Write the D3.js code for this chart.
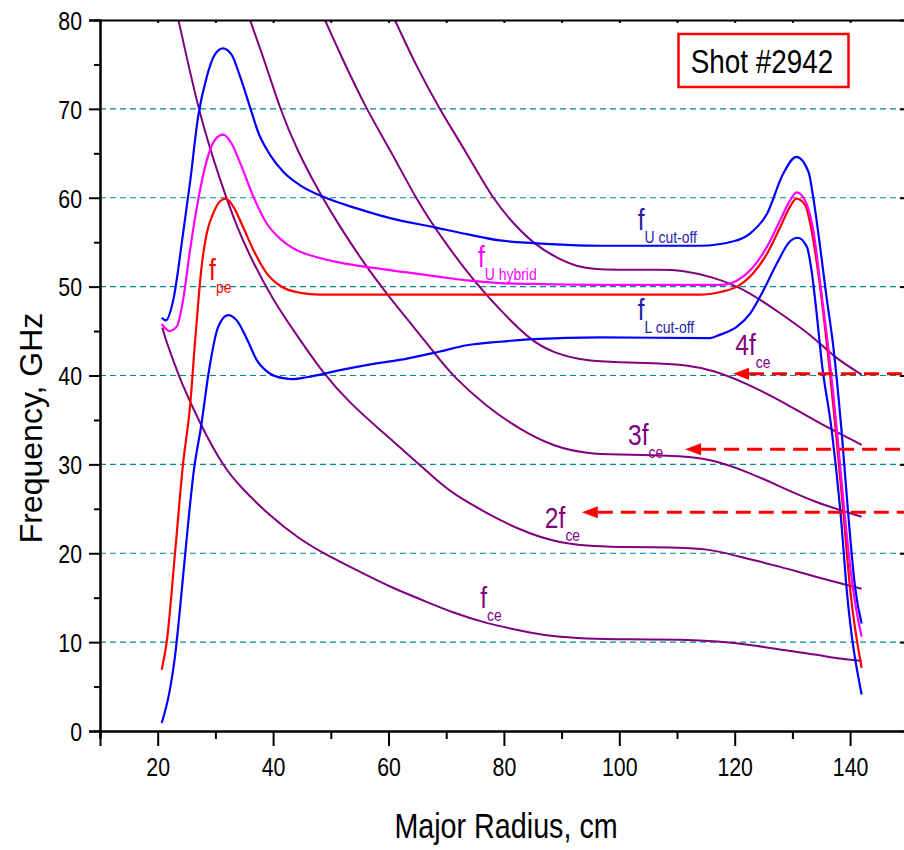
<!DOCTYPE html>
<html>
<head>
<meta charset="utf-8">
<script src="https://cdn.jsdelivr.net/npm/d3@7"></script>
<style>
  body { margin: 0; background: #fff; }
  svg { display: block; }
  text { font-family: 'Liberation Sans', Arial, sans-serif; }
</style>
</head>
<body>
<svg id="chart" width="904" height="850"></svg>
<script>
// frequencies (GHz) vs major radius (cm)
var fUcut = [[20.7,46.5],[21.4,46.2],[22.7,48.5],[24.4,56.0],[25.6,61.7],[27.0,69.1],[28.5,73.6],[29.9,76.1],[31.3,76.8],[32.8,76.1],[34.3,73.6],[36.0,70.2],[37.4,67.4],[39.5,64.8],[41.8,62.9],[44.7,61.4],[48.7,60.1],[54.5,58.8],[60.3,57.7],[67.8,56.7],[73.6,55.9],[79.3,55.2],[85.1,54.9],[90.9,54.7],[96.7,54.6],[114.0,54.6],[119.8,55.1],[122.7,56.0],[125.6,58.2],[128.4,62.7],[130.7,64.6],[132.8,62.9],[133.6,60.1],[134.8,54.5],[135.9,48.9],[137.1,43.2],[138.5,33.9],[139.7,24.2],[140.9,16.0],[142.0,12.1]];
var fUhyb = [[20.7,45.8],[22.0,45.0],[23.3,45.5],[24.4,48.5],[25.6,54.1],[27.0,59.7],[28.5,64.2],[29.9,66.5],[31.3,67.1],[32.8,66.1],[34.3,63.9],[36.6,60.1],[38.9,57.1],[41.2,55.4],[43.5,54.3],[47.6,53.3],[51.6,52.7],[57.4,52.1],[63.2,51.6],[68.9,51.1],[73.6,50.7],[79.3,50.4],[85.1,50.3],[96.7,50.2],[117.5,50.2],[120.4,50.7],[123.2,52.2],[125.6,54.5],[127.9,57.5],[129.6,59.7],[130.7,60.6],[132.2,59.7],[133.6,56.4],[135.1,48.9],[136.2,43.2],[137.7,33.9],[139.1,24.1],[140.5,16.0],[142.0,10.6]];
var fpe = [[20.7,6.9],[21.6,10.2],[23.0,20.0],[24.4,30.1],[25.6,36.5],[26.5,44.0],[27.6,52.2],[28.5,56.0],[29.6,58.2],[30.8,59.6],[31.8,59.9],[33.1,59.0],[34.8,56.7],[36.6,54.1],[38.9,51.5],[41.2,50.1],[44.7,49.3],[48.1,49.1],[114.0,49.1],[117.5,49.4],[120.4,50.0],[123.2,51.5],[125.6,53.7],[127.9,56.7],[129.6,59.0],[130.7,59.9],[132.2,59.2],[133.3,56.4],[134.4,51.9],[137.5,33.9],[138.9,24.1],[140.0,16.0],[142.0,7.1]];
var fLcut = [[20.7,0.9],[22.1,4.6],[23.0,8.4],[23.9,14.0],[25.0,21.5],[26.2,29.0],[27.6,34.6],[28.8,40.2],[30.5,45.5],[32.2,46.8],[33.7,46.2],[35.4,44.2],[37.2,41.7],[39.5,40.2],[41.8,39.7],[43.5,39.6],[45.8,39.8],[51.6,40.6],[57.4,41.3],[63.2,41.9],[68.9,42.7],[73.6,43.4],[79.3,43.8],[85.1,44.1],[96.7,44.3],[115.7,44.2],[117.5,44.6],[120.4,45.5],[122.7,47.0],[125.0,49.6],[127.3,52.6],[129.6,55.1],[130.9,55.5],[132.5,54.5],[133.3,51.9],[134.2,47.0],[135.1,41.4],[136.8,33.9],[138.4,24.1],[139.4,16.0],[142.0,4.1]];
var fce = [[20.8,45.4],[21.4,44.0],[22.7,41.7],[23.9,39.5],[27.3,34.6],[31.4,29.7],[34.3,27.5],[38.9,24.5],[44.7,21.5],[49.3,19.8],[55.1,17.9],[60.3,16.2],[66.0,14.7],[71.2,13.3],[77.0,12.1],[82.8,11.3],[88.6,10.6],[94.4,10.4],[100.1,10.3],[111.7,10.3],[116.9,10.1],[122.7,9.7],[128.4,9.1],[134.2,8.6],[138.3,8.1],[142.0,7.9]];
var f2ce = [[23.6,80],[27.3,69.1],[30.8,62.0],[33.7,56.7],[36.6,52.6],[40.0,48.5],[43.5,45.1],[48.7,40.2],[53.3,36.9],[58.5,33.9],[64.3,30.6],[68.9,27.9],[71.2,26.7],[77.0,24.5],[82.8,22.6],[88.6,21.3],[94.4,20.8],[100.1,20.7],[105.9,20.7],[111.7,20.6],[116.3,20.4],[122.1,19.4],[127.9,18.5],[133.6,17.4],[142.0,16.0]];
var f3ce = [[36.0,80],[38.9,74.7],[41.2,70.0],[44.1,65.4],[48.1,60.5],[51.6,56.7],[56.2,52.2],[59.7,49.2],[64.3,45.5],[68.0,42.5],[71.2,39.9],[77.0,36.5],[82.8,33.9],[88.6,32.0],[94.4,31.2],[100.1,31.1],[105.9,31.05],[111.7,30.9],[116.3,30.5],[122.1,29.2],[127.9,27.5],[133.6,25.8],[142.0,24.1]];
var f4ce = [[49.0,80],[51.6,76.2],[56.2,69.9],[60.3,65.4],[64.9,59.7],[69.5,55.2],[74.7,50.7],[79.3,47.4],[84.5,44.0],[88.6,42.5],[94.4,41.6],[100.1,41.5],[105.9,41.4],[111.7,41.2],[116.3,40.6],[122.1,39.1],[127.9,37.2],[133.6,35.0],[142.0,32.2]];
var f5ce = [[61.1,80],[64.9,74.7],[68.9,69.9],[73.6,65.0],[78.2,59.7],[82.2,56.7],[85.1,54.9],[88.6,53.4],[92.6,52.2],[96.7,51.9],[101.3,51.9],[107.1,51.9],[110.5,51.9],[116.3,51.1],[122.1,49.6],[127.9,47.0],[133.6,44.4],[137.1,42.1],[142.0,40.1]];

// launched beam frequencies (arrows) and where they stop
var beamLevels = [40.2, 31.7, 24.6];
var beamStops = [119.7, 111.4, 93.5];

var gridLevels = [10, 20, 30, 40, 50, 60, 70];
var xMajor = [20, 40, 60, 80, 100, 120, 140];
var xMinor = [10, 30, 50, 70, 90, 110, 130, 150];
var yMajor = [0, 10, 20, 30, 40, 50, 60, 70, 80];
var yMinor = [5, 15, 25, 35, 45, 55, 65, 75];

var curveLabels = [
  {main: 'f', sub: 'U cut-off', x: 103.2, y: 56.4, color: '#1c1ca8'},
  {main: 'f', sub: 'L cut-off', x: 103.2, y: 46.2, color: '#1c1ca8'},
  {main: 'f', sub: 'U hybrid', x: 75.5, y: 52.2, color: '#ff00ff'},
  {main: 'f', sub: 'pe', x: 28.9, y: 50.7, color: '#ff0000'},
  {main: '4f', sub: 'ce', x: 120.1, y: 42.3, color: '#800080'},
  {main: '3f', sub: 'ce', x: 101.5, y: 32.2, color: '#800080'},
  {main: '2f', sub: 'ce', x: 87.1, y: 22.8, color: '#800080'},
  {main: 'f', sub: 'ce', x: 75.9, y: 13.8, color: '#800080'}
];

var NARROW = 0.82; // the lettering in the figure is condensed

var svg = d3.select('#chart');
var x = d3.scaleLinear().domain([10, 150]).range([100, 907.8]);
var y = d3.scaleLinear().domain([0, 80]).range([731, 20]);

svg.append('defs').append('clipPath').attr('id', 'plot')
  .append('rect').attr('x', x(10)).attr('y', y(80))
  .attr('width', x(150) - x(10)).attr('height', y(0) - y(80));

// dashed grid
svg.append('g').selectAll('line').data(gridLevels).join('line')
  .attr('x1', x(10)).attr('x2', x(150))
  .attr('y1', d => y(d)).attr('y2', d => y(d))
  .style('stroke', '#008b8b').style('stroke-width', 1.2)
  .style('stroke-dasharray', '6,4');

var smooth = d3.line().x(d => x(d[0])).y(d => y(d[1])).curve(d3.curveBasis);
var through = d3.line().x(d => x(d[0])).y(d => y(d[1])).curve(d3.curveMonotoneX);
var curves = svg.append('g').attr('clip-path', 'url(#plot)');

var series = [
  {data: fce, color: '#800080', w: 2, line: smooth},
  {data: f2ce, color: '#800080', w: 2, line: smooth},
  {data: f3ce, color: '#800080', w: 2, line: smooth},
  {data: f4ce, color: '#800080', w: 2, line: smooth},
  {data: f5ce, color: '#800080', w: 2, line: smooth},
  {data: fLcut, color: '#0000ff', w: 2.2, line: through},
  {data: fpe, color: '#ff0000', w: 2.2, line: through},
  {data: fUhyb, color: '#ff00ff', w: 2.2, line: through},
  {data: fUcut, color: '#0000ff', w: 2.2, line: through}
];
series.forEach(function(s) {
  curves.append('path')
    .attr('d', s.line(s.data))
    .style('fill', 'none')
    .style('stroke', s.color)
    .style('stroke-width', s.w)
    .style('stroke-linejoin', 'round');
});

// beam arrows
var arrows = svg.append('g');
beamLevels.forEach(function(lv, i) {
  var tx = x(beamStops[i]), ty = y(lv);
  arrows.append('line')
    .attr('x1', tx + 16).attr('x2', 904)
    .attr('y1', ty).attr('y2', ty)
    .style('stroke', '#ff0000').style('stroke-width', 3)
    .style('stroke-dasharray', '15,8');
  arrows.append('path')
    .attr('d', 'M' + tx + ',' + ty + 'L' + (tx + 16) + ',' + (ty - 6) + 'L' + (tx + 16) + ',' + (ty + 6) + 'Z')
    .style('fill', '#ff0000');
});

// axes
function styleAxis(g) {
  g.selectAll('path.domain').style('stroke', '#000').style('stroke-width', 2);
  g.selectAll('line').style('stroke', '#000').style('stroke-width', 2);
  g.selectAll('text').style('font-size', '26px').style('fill', '#000');
}

var gx = svg.append('g').attr('transform', 'translate(0,' + y(0) + ')')
  .call(d3.axisBottom(x).tickValues(xMajor).tickSize(15).tickPadding(12).tickFormat(d3.format('d')));
svg.append('g').attr('transform', 'translate(0,' + y(0) + ')')
  .call(d3.axisBottom(x).tickValues(xMinor).tickSize(8).tickFormat(''))
  .call(styleAxis);
styleAxis(gx);
gx.selectAll('text').attr('transform', 'scale(' + NARROW + ',1)');

var gy = svg.append('g').attr('transform', 'translate(' + x(10) + ',0)')
  .call(d3.axisLeft(y).tickValues(yMajor).tickSize(11).tickPadding(7).tickFormat(d3.format('d')));
svg.append('g').attr('transform', 'translate(' + x(10) + ',0)')
  .call(d3.axisLeft(y).tickValues(yMinor).tickSize(6).tickFormat(''))
  .call(styleAxis);
styleAxis(gy);
gy.selectAll('text').attr('dy', '0.36em').attr('x', -18 / NARROW)
  .attr('transform', 'scale(' + NARROW + ',1)');

svg.append('g').attr('transform', 'translate(0,' + y(80) + ')')
  .call(d3.axisTop(x).tickValues(xMajor.concat(xMinor)).tickSizeInner(-3).tickSizeOuter(0).tickFormat(''))
  .call(styleAxis);
svg.append('g').attr('transform', 'translate(' + x(150) + ',0)')
  .call(d3.axisLeft(y).tickValues(yMajor).tickSizeInner(8).tickSizeOuter(0).tickFormat(''))
  .call(styleAxis);

// axis titles
svg.append('text')
  .attr('transform', 'translate(506,838) scale(' + NARROW + ',1)')
  .attr('text-anchor', 'middle')
  .style('font-size', '35px')
  .text('Major Radius, cm');
svg.append('text')
  .attr('transform', 'translate(42,428) rotate(-90)')
  .attr('text-anchor', 'middle')
  .style('font-size', '32px')
  .text('Frequency, GHz');

// shot box
svg.append('rect')
  .attr('x', 678.5).attr('y', 34).attr('width', 170).attr('height', 53)
  .style('fill', '#fff').style('stroke', '#ff0000').style('stroke-width', 2.5);
svg.append('text')
  .attr('transform', 'translate(762,73) scale(' + NARROW + ',1)')
  .attr('text-anchor', 'middle')
  .style('font-size', '34px')
  .text('Shot #2942');

// curve labels with subscripts
var lab = svg.append('g').selectAll('text').data(curveLabels).join('text')
  .attr('transform', d => 'translate(' + x(d.x) + ',' + y(d.y) + ') scale(' + NARROW + ',1)')
  .style('fill', d => d.color);
lab.append('tspan').style('font-size', '30px').text(d => d.main);
lab.append('tspan').attr('dy', 13).style('font-size', '17px').text(d => d.sub);
</script>
</body>
</html>
